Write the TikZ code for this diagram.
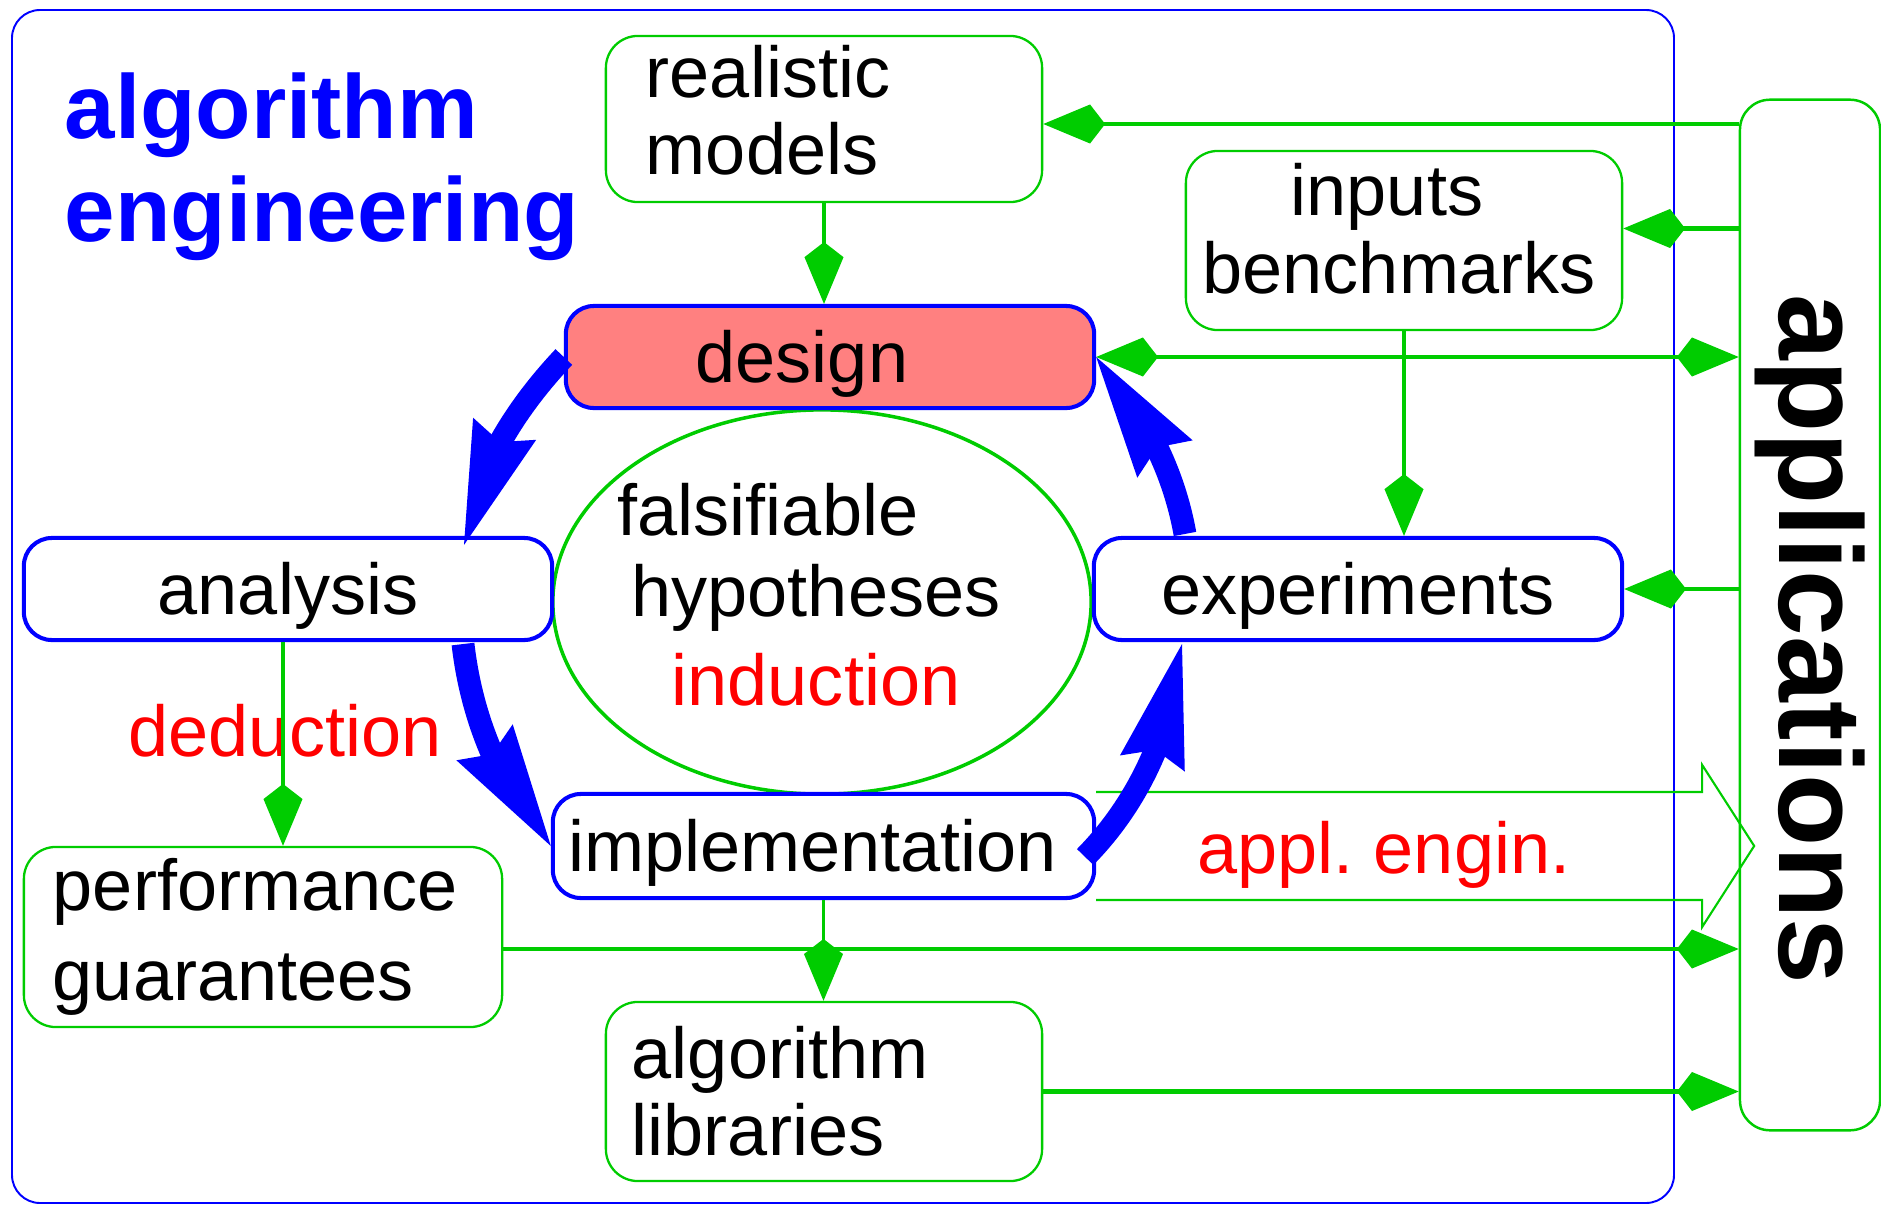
\documentclass[tikz,border=0pt]{standalone}
\usepackage{fontspec}
\setmainfont{Liberation Sans}
\usetikzlibrary{arrows.meta,bending,calc,shapes.geometric}
\definecolor{ablue}{RGB}{0,0,255}
\definecolor{agreen}{RGB}{0,204,0}
\definecolor{ared}{RGB}{255,0,0}
\definecolor{asalmon}{RGB}{255,128,128}
\tikzset{
  gkite/.tip={Kite[length=17.6pt,width=11.1pt,inset=4.3pt,line width=0pt]},
  bstealth/.tip={Stealth[length=35pt,width=19pt,inset=4pt,line width=0pt,flex]},
  txt/.style={font=\fontsize{20.5pt}{22pt}\selectfont, inner sep=0pt},
  bbox/.style={txt, draw=ablue, line width=1.15pt, rounded corners=0.28cm, fill=white,
    minimum height=1.02cm, text height=0.5cm, text depth=0pt},
  gbox/.style={txt, draw=agreen, line width=0.65pt, rounded corners=0.32cm, fill=white},
  conn/.style={draw=agreen, line width=1.3pt, -gkite},
  vconn/.style={draw=agreen, line width=1pt, -gkite},
  cyc/.style={draw=ablue, line width=6.5pt, -bstealth},
}
\begin{document}
\begin{tikzpicture}[x=0.01cm,y=-0.01cm]
\useasboundingbox (0,0) rectangle (1881,1206);
% outer frame
\draw[ablue, line width=0.55pt, rounded corners=0.28cm] (12,10) rectangle (1674,1203);
% title
\node[font=\bfseries\fontsize{25.8pt}{29.3pt}\selectfont, text=ablue, align=left,
  anchor=north west, inner sep=0pt] (title) at (64,72) {algorithm\\engineering};
% ellipse
\node[txt, draw=agreen, line width=1pt, ellipse, fill=white, minimum width=5.38cm,
  minimum height=3.84cm, inner xsep=-0.5cm, align=center] (hyp) at (822,602)
  {\hbox{falsifiable\kern1.08cm}\\[0.85pt]\hbox{hypotheses\kern0.12cm}\\[3.4pt]\hbox{\textcolor{ared}{induction}\kern0.12cm}\rule[-0.15cm]{0pt}{0.15cm}};
% blue nodes
\node[bbox, fill=asalmon, minimum width=5.28cm] (design) at (830,357) {design\hspace*{0.56cm}};
\node[bbox, minimum width=5.28cm] (analysis) at (288,589) {analysis};
\node[bbox, minimum width=5.28cm] (experiments) at (1358,589) {experiments};
\node[bbox, minimum width=5.41cm, minimum height=1.04cm] (implementation) at (823.5,846) {implementation\hspace*{0.22cm}};
% green nodes
\node[gbox, minimum width=4.36cm, minimum height=1.66cm, text width=3.56cm, inner xsep=0.4cm,
  align=left] (realistic) at (824,119) {realistic\\models\rule[-0.18cm]{0pt}{0.18cm}};
\node[gbox, minimum width=4.36cm, minimum height=1.79cm, align=center] (inputs) at (1404,240.5)
  {inputs\hspace*{0.34cm}\\benchmarks\hspace*{0.1cm}\rule[-0.24cm]{0pt}{0.24cm}};
\node[gbox, minimum width=4.78cm, minimum height=1.8cm, text width=4.2cm, inner xsep=0.29cm,
  align=left] (perf) at (263,937) {performance\\[3.7pt]guarantees};
\node[gbox, minimum width=4.36cm, minimum height=1.79cm, text width=3.84cm, inner xsep=0.26cm,
  align=left] (libraries) at (824,1091.5) {algorithm\\libraries};
% applications
\node[draw=agreen, line width=0.7pt, rounded corners=0.3cm, fill=white, rotate=-90,
  minimum width=10.3cm, minimum height=1.4cm, inner sep=0pt,
  font=\bfseries\fontsize{33.6pt}{36pt}\selectfont] (apps) at (1810,615) {\hspace*{0.49cm}applications};
% labels
\node[txt, text=ared, anchor=base] (ded) at (285,756) {deduction};
\node[txt, text=ared, anchor=base] (appltext) at (1384,873) {appl.\ engin.};
% block arrow appl. engin.
\draw[agreen, line width=0.6pt] (implementation.north east) -- ++(606,0) -- ++(0,-27)
  -- ++(52,81) -- ++(-52,81) -- ++(0,-27) -- ++(-606,0);
% green connectors
\draw[conn] ($(apps.south |- realistic.east)+(0,5)$) -- ($(realistic.east)+(0,5)$);
\draw[conn] ($(apps.south |- inputs.east)+(0,-12)$) -- ($(inputs.east)+(0,-12)$);
\draw[conn, gkite-gkite] (design.east) -- (apps.south |- design.east);
\draw[conn] (apps.south |- experiments.east) -- (experiments.east);
\draw[conn] ($(perf.east)+(0,12)$) -- ($(apps.south |- perf.east)+(0,12)$);
\draw[conn] (libraries.east) -- (apps.south |- libraries.east);
\draw[vconn] (realistic.south) -- (realistic.south |- design.north);
\draw[vconn] (inputs.south) -- (inputs.south |- experiments.north);
\draw[vconn] ($(analysis.south)+(-5,0)$) -- ($(analysis.south |- perf.north)+(-5,0)$);
\draw[vconn] (implementation.south) -- (implementation.south |- libraries.north);
% blue cycle arrows
\draw[cyc] (design.west) .. controls +(-50,53) and +(11,-72) .. ($(analysis.north)+(176,9)$);
\draw[cyc] ($(analysis.south)+(175,2)$) .. controls +(8.5,74.5) and +(-50,-56) .. (implementation.west);
\draw[cyc] ($(implementation.east)+(-11,11)$) .. controls +(57,-58) and +(-9,80.5) .. ($(experiments.south)+(-176,2)$);
\draw[cyc] ($(experiments.north)+(-173,-2)$) .. controls +(-12,-67) and +(45,51) .. (design.east);
\end{tikzpicture}
\end{document}
